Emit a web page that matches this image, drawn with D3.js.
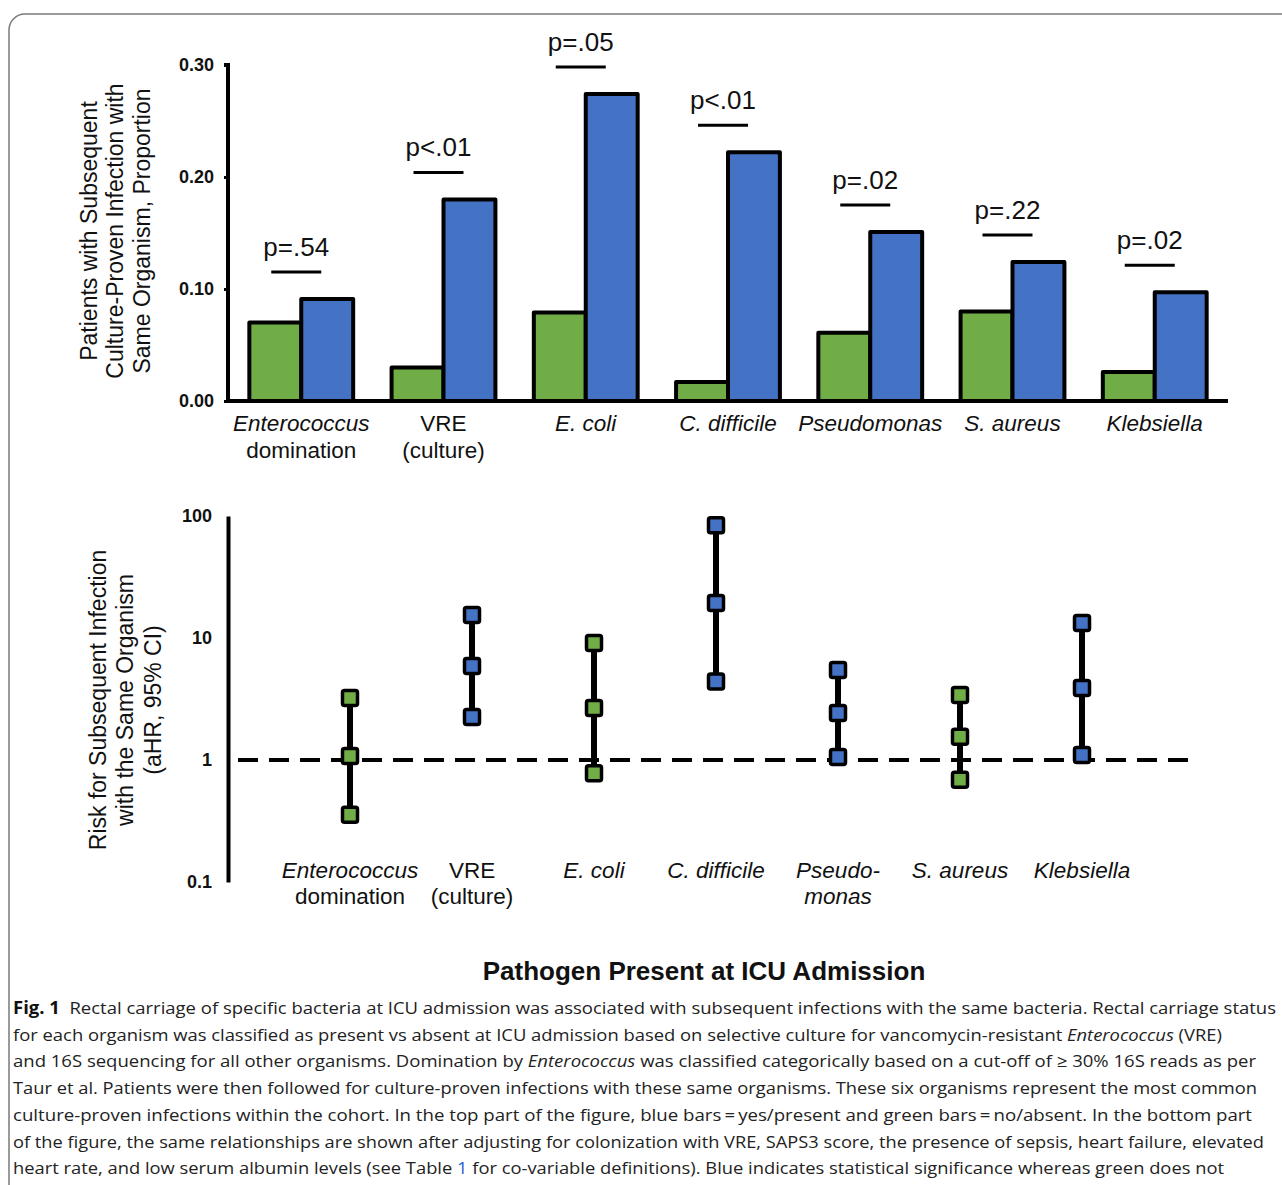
<!DOCTYPE html>
<html>
<head>
<meta charset="utf-8">
<script src="https://cdn.jsdelivr.net/npm/d3@7"></script>
<style>
  body { margin: 0; background: #fff; }
  svg text { font-family: "Liberation Sans", Arial, sans-serif; fill: #111; }
  .caption text { font-family: "Open Sans", "Noto Sans", sans-serif; fill: #222; }
</style>
</head>
<body>
<div id="fig"></div>
<script>
// categories (x axis), each label split in lines
var organisms = ["Enterococcus domination", "VRE (culture)", "E. coli", "C. difficile", "Pseudomonas", "S. aureus", "Klebsiella"];
var topLabels = [["Enterococcus", "domination"], ["VRE", "(culture)"], ["E. coli"], ["C. difficile"], ["Pseudomonas"], ["S. aureus"], ["Klebsiella"]];
var bottomLabels = [["Enterococcus", "domination"], ["VRE", "(culture)"], ["E. coli"], ["C. difficile"], ["Pseudo-", "monas"], ["S. aureus"], ["Klebsiella"]];
var plainWords = ["domination", "VRE", "(culture)"];

// top: proportion with subsequent infection, absent (green) vs present (blue)
var absentProp = [0.070, 0.030, 0.079, 0.017, 0.061, 0.080, 0.026];
var presentProp = [0.091, 0.180, 0.274, 0.222, 0.151, 0.124, 0.097];
var pLabels = ["p=.54", "p<.01", "p=.05", "p<.01", "p=.02", "p=.22", "p=.02"];
var propTicks = [0, 0.1, 0.2, 0.3];

// bottom: adjusted hazard ratio with 95% CI
var ahrLow = [0.355, 2.25, 0.78, 4.4, 1.06, 0.69, 1.10];
var ahrEst = [1.08, 5.9, 2.67, 19.4, 2.43, 1.55, 3.89];
var ahrHigh = [3.22, 15.4, 9.1, 84, 5.47, 3.41, 13.3];
var significant = [false, true, false, true, true, false, true];
var ahrTicks = [0.1, 1, 10, 100];

var GREEN = "#70ad47", BLUE = "#4472c4";

var svg = d3.select("#fig").append("svg")
	.attr("width", 1282)
	.attr("height", 1185);

// frame
svg.append("rect")
	.attr("x", 9).attr("y", 14)
	.attr("width", 1300).attr("height", 1200)
	.attr("rx", 16)
	.attr("fill", "none")
	.attr("stroke", "#7a7a7a")
	.attr("stroke-width", 1.5);

/* ---------- top chart: bars ---------- */
var x1 = d3.scaleBand()
	.domain(organisms)
	.range([228, 1228])
	.paddingInner(0.27)
	.paddingOuter(0.15);

var y1 = d3.scaleLinear()
	.domain([0, 0.3])
	.range([401, 65]);

var barData = organisms.map(function(o, i) {
	return {org: o, absent: absentProp[i], present: presentProp[i], p: pLabels[i], label: topLabels[i]};
});

var half = x1.bandwidth() / 2;

var g1 = svg.append("g");

var grp = g1.selectAll(".grp")
	.data(barData)
	.enter().append("g")
	.attr("class", "grp")
	.attr("transform", function(d) { return "translate(" + x1(d.org) + ",0)"; });

grp.append("rect")
	.attr("x", 0)
	.attr("y", function(d) { return y1(d.absent); })
	.attr("width", half)
	.attr("height", function(d) { return y1(0) - y1(d.absent); })
	.attr("fill", GREEN);

grp.append("rect")
	.attr("x", half)
	.attr("y", function(d) { return y1(d.present); })
	.attr("width", half)
	.attr("height", function(d) { return y1(0) - y1(d.present); })
	.attr("fill", BLUE);

grp.selectAll("rect")
	.attr("stroke", "#000")
	.attr("stroke-width", 4)
	.attr("stroke-linejoin", "round");

// significance bar + p value
grp.append("line")
	.attr("x1", half - 30).attr("x2", half + 20)
	.attr("y1", function(d) { return y1(d.present) - 27; })
	.attr("y2", function(d) { return y1(d.present) - 27; })
	.attr("stroke", "#000")
	.attr("stroke-width", 3);

grp.append("text")
	.attr("x", half - 5)
	.attr("y", function(d) { return y1(d.present) - 43; })
	.attr("text-anchor", "middle")
	.style("font-size", "26px")
	.text(function(d) { return d.p; });

// category labels
grp.each(function(d) {
	var t = d3.select(this).append("text")
		.attr("text-anchor", "middle")
		.style("font-size", "22.5px");
	d.label.forEach(function(s, k) {
		t.append("tspan")
			.attr("x", half)
			.attr("y", 431 + k * 27)
			.style("font-style", plainWords.indexOf(s) >= 0 ? "normal" : "italic")
			.text(s);
	});
});

// axes
var yAxis1 = g1.append("g")
	.attr("transform", "translate(228,0)")
	.call(d3.axisLeft(y1).tickValues(propTicks).tickFormat(d3.format(".2f")).tickSize(4).tickPadding(10));
yAxis1.select(".domain").attr("stroke", "#000").attr("stroke-width", 4).attr("d", "M-4,65H0V401");
yAxis1.selectAll(".tick line").attr("stroke", "#000").attr("stroke-width", 3);
yAxis1.selectAll(".tick text")
	.style("font-family", "'Liberation Sans', Arial, sans-serif")
	.style("font-size", "18px")
	.style("font-weight", "bold")
	.attr("fill", "#111");

g1.append("line")
	.attr("x1", 226).attr("x2", 1228)
	.attr("y1", y1(0)).attr("y2", y1(0))
	.attr("stroke", "#000")
	.attr("stroke-width", 4);

var title1 = g1.append("text")
	.attr("transform", "translate(115,231) rotate(-90)")
	.attr("text-anchor", "middle")
	.style("font-size", "23px");
["Patients with Subsequent", "Culture-Proven Infection with", "Same Organism, Proportion"].forEach(function(s, k) {
	title1.append("tspan").attr("x", 0).attr("y", (k - 1) * 26.5).attr("dy", "0.35em").text(s);
});

/* ---------- bottom chart: hazard ratios ---------- */
var x2 = d3.scalePoint()
	.domain(organisms)
	.range([228, 1204])
	.padding(1);

var y2 = d3.scaleLog()
	.domain([0.1, 100])
	.range([882, 516]);

var g2 = svg.append("g");

var yAxis2 = g2.append("g")
	.attr("transform", "translate(228,0)")
	.call(d3.axisLeft(y2).tickValues(ahrTicks).tickFormat(function(d) { return d < 1 ? "0.1" : d3.format("d")(d); }).tickSize(0).tickPadding(16));
yAxis2.select(".domain").attr("stroke", "#000").attr("stroke-width", 4);
yAxis2.selectAll(".tick text")
	.style("font-family", "'Liberation Sans', Arial, sans-serif")
	.style("font-size", "18px")
	.style("font-weight", "bold")
	.attr("fill", "#111");

// reference line at HR = 1
g2.append("line")
	.attr("x1", 238).attr("x2", 1196)
	.attr("y1", y2(1)).attr("y2", y2(1))
	.attr("stroke", "#000")
	.attr("stroke-width", 4)
	.attr("stroke-dasharray", "20,11");

var hrData = organisms.map(function(o, i) {
	return {org: o, lo: ahrLow[i], est: ahrEst[i], hi: ahrHigh[i], sig: significant[i], label: bottomLabels[i]};
});

var ci = g2.selectAll(".ci")
	.data(hrData)
	.enter().append("g")
	.attr("class", "ci")
	.attr("transform", function(d) { return "translate(" + x2(d.org) + ",0)"; });

ci.append("line")
	.attr("x1", 0).attr("x2", 0)
	.attr("y1", function(d) { return y2(d.hi); })
	.attr("y2", function(d) { return y2(d.lo); })
	.attr("stroke", "#000")
	.attr("stroke-width", 6);

ci.selectAll(".mark")
	.data(function(d) { return [d.hi, d.est, d.lo].map(function(v) { return {v: v, sig: d.sig}; }); })
	.enter().append("rect")
	.attr("class", "mark")
	.attr("x", -7.5)
	.attr("y", function(d) { return y2(d.v) - 7.5; })
	.attr("width", 15)
	.attr("height", 15)
	.attr("rx", 2)
	.attr("fill", function(d) { return d.sig ? BLUE : GREEN; })
	.attr("stroke", "#000")
	.attr("stroke-width", 3.5);

ci.each(function(d) {
	var t = d3.select(this).append("text")
		.attr("text-anchor", "middle")
		.style("font-size", "22.5px");
	d.label.forEach(function(s, k) {
		t.append("tspan")
			.attr("x", 0)
			.attr("y", 878 + k * 26)
			.style("font-style", plainWords.indexOf(s) >= 0 ? "normal" : "italic")
			.text(s);
	});
});

var title2 = g2.append("text")
	.attr("transform", "translate(125,700) rotate(-90)")
	.attr("text-anchor", "middle")
	.style("font-size", "23px");
["Risk for Subsequent Infection", "with the Same Organism", "(aHR, 95% CI)"].forEach(function(s, k) {
	title2.append("tspan").attr("x", 0).attr("y", (k - 1) * 27.5).attr("dy", "0.35em").text(s);
});

// shared x title
svg.append("text")
	.attr("x", 704).attr("y", 980)
	.attr("text-anchor", "middle")
	.style("font-size", "26px")
	.style("font-weight", "bold")
	.text("Pathogen Present at ICU Admission");

/* ---------- caption ---------- */
var captionLines = [
	[{t: "Fig. 1", b: true}, {t: "  Rectal carriage of specific bacteria at ICU admission was associated with subsequent infections with the same bacteria. Rectal carriage status"}],
	[{t: "for each organism was classified as present vs absent at ICU admission based on selective culture for vancomycin-resistant "}, {t: "Enterococcus", i: true}, {t: " (VRE)"}],
	[{t: "and 16S sequencing for all other organisms. Domination by "}, {t: "Enterococcus", i: true}, {t: " was classified categorically based on a cut-off of \u2265 30% 16S reads as per"}],
	[{t: "Taur et al. Patients were then followed for culture-proven infections with these same organisms. These six organisms represent the most common"}],
	[{t: "culture-proven infections within the cohort. In the top part of the figure, blue bars\u2009=\u2009yes/present and green bars\u2009=\u2009no/absent. In the bottom part"}],
	[{t: "of the figure, the same relationships are shown after adjusting for colonization with VRE, SAPS3 score, the presence of sepsis, heart failure, elevated"}],
	[{t: "heart rate, and low serum albumin levels (see Table "}, {t: "1", c: "#2a5bd7"}, {t: " for co-variable definitions). Blue indicates statistical significance whereas green does not"}]
];
var captionWidths = [1263, 1209, 1243, 1244, 1239, 1251, 1211];

var cap = svg.append("g").attr("class", "caption");
captionLines.forEach(function(parts, k) {
	var t = cap.append("text")
		.attr("x", 13)
		.attr("y", 1014 + k * 26.7)
		.attr("textLength", captionWidths[k])
		.attr("lengthAdjust", "spacingAndGlyphs")
		.style("font-size", "17px")
		.style("white-space", "pre");
	parts.forEach(function(p) {
		var s = t.append("tspan").text(p.t);
		if (p.b) s.style("font-weight", "bold").style("fill", "#111");
		if (p.i) s.style("font-style", "italic");
		if (p.c) s.style("fill", p.c);
	});
});
</script>
</body>
</html>
